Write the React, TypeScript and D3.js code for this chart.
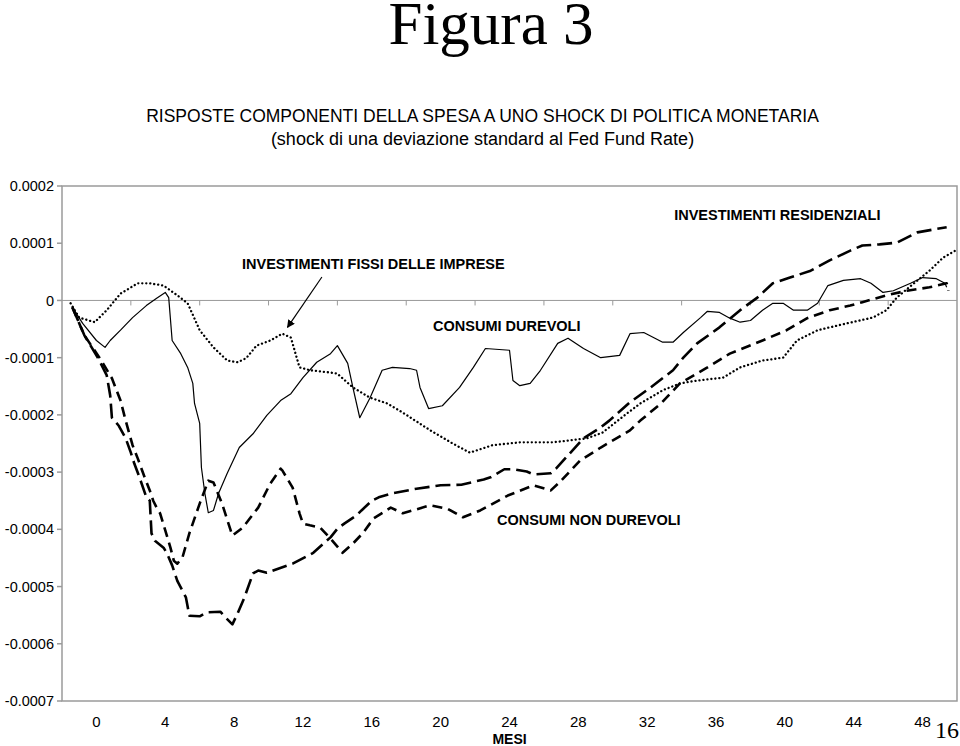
import React from 'react';
import * as d3 from 'd3';

// values are in units of 1e-4
const UNIT = 1e-4;

const xTickLabels = ['0', '4', '8', '12', '16', '20', '24', '28', '32', '36', '40', '44', '48'];
const yTickValues = [0.0002, 0.0001, 0, -0.0001, -0.0002, -0.0003, -0.0004, -0.0005, -0.0006, -0.0007];
const yTickLabels = ['0.0002', '0.0001', '0', '-0.0001', '-0.0002', '-0.0003', '-0.0004', '-0.0005', '-0.0006', '-0.0007'];

// CONSUMI DUREVOLI (solid)
const durevoliMonths = [0.1, 0.7, 1.5, 2.0, 2.3, 2.9, 3.6, 4.4, 5.0, 5.5, 5.7, 5.9, 6.4, 6.8, 7.1, 7.2, 7.5, 7.6, 7.8, 8.0, 8.3, 8.6, 9.1, 9.8, 10.6, 11.4, 12.2, 12.8, 13.5, 14.3, 15.1, 15.5, 16.1, 16.4, 16.8, 17.4, 18.1, 18.7, 19.7, 20.1, 20.3, 20.8, 21.6, 22.6, 23.4, 24.1, 25.5, 25.7, 26.1, 26.7, 27.3, 28.3, 28.9, 29.8, 30.8, 31.9, 32.5, 33.3, 34.4, 35.0, 35.6, 36.6, 37.0, 37.7, 38.3, 38.9, 39.5, 40.2, 40.8, 41.4, 42.0, 42.8, 43.4, 44.0, 44.9, 45.9, 46.5, 47.2, 47.8, 48.8, 49.5, 50.3, 50.8, 50.9];
const durevoliValues = [-0.12, -0.40, -0.70, -0.82, -0.70, -0.52, -0.30, -0.09, 0.04, 0.14, 0.05, -0.70, -0.93, -1.17, -1.45, -1.80, -2.15, -2.92, -3.37, -3.71, -3.67, -3.37, -3.02, -2.57, -2.33, -2.01, -1.75, -1.63, -1.35, -1.08, -0.93, -0.79, -1.10, -1.52, -2.05, -1.70, -1.22, -1.17, -1.19, -1.22, -1.52, -1.89, -1.84, -1.52, -1.17, -0.84, -0.87, -1.40, -1.49, -1.45, -1.22, -0.75, -0.66, -0.84, -1.00, -0.96, -0.58, -0.56, -0.73, -0.73, -0.56, -0.30, -0.19, -0.21, -0.31, -0.38, -0.35, -0.17, -0.05, -0.05, -0.17, -0.17, -0.05, 0.26, 0.35, 0.38, 0.30, 0.14, 0.17, 0.30, 0.40, 0.38, 0.30, 0.23];

// INVESTIMENTI FISSI DELLE IMPRESE (dotted)
const fissiMonths = [0.0, 0.5, 1.4, 2.1, 2.9, 3.9, 4.6, 5.4, 6.2, 6.8, 7.5, 8.3, 9.1, 9.7, 10.2, 10.8, 11.6, 12.3, 12.8, 13.3, 13.9, 15.1, 15.5, 16.4, 17.4, 18.4, 19.3, 20.9, 22.2, 23.2, 24.5, 26.1, 28.0, 30.0, 30.9, 32.3, 33.1, 34.4, 35.4, 36.4, 37.9, 38.9, 40.2, 41.4, 42.2, 43.4, 45.1, 46.6, 47.4, 48.0, 49.0, 49.9, 50.7, 51.4];
const fissiValues = [-0.05, -0.30, -0.38, -0.17, 0.12, 0.30, 0.30, 0.26, 0.09, -0.05, -0.52, -0.82, -1.05, -1.08, -1.01, -0.79, -0.70, -0.58, -0.65, -1.17, -1.22, -1.26, -1.28, -1.52, -1.70, -1.80, -1.96, -2.27, -2.50, -2.66, -2.53, -2.48, -2.48, -2.41, -2.31, -1.98, -1.80, -1.57, -1.45, -1.40, -1.35, -1.17, -1.05, -1.00, -0.70, -0.52, -0.40, -0.30, -0.17, 0.05, 0.30, 0.52, 0.75, 0.87];

// INVESTIMENTI RESIDENZIALI (long dash)
const residMonths = [0.1, 0.8, 1.6, 2.1, 2.3, 2.4, 2.8, 3.2, 3.5, 3.7, 4.0, 4.4, 4.6, 4.7, 4.9, 5.4, 5.6, 5.9, 6.2, 6.7, 6.9, 7.5, 7.9, 8.7, 9.0, 9.4, 9.7, 10.1, 10.6, 10.9, 11.4, 12.6, 12.9, 13.8, 14.1, 15.1, 15.5, 15.9, 16.6, 16.9, 17.5, 17.9, 18.7, 20.1, 21.5, 22.7, 24.0, 24.4, 25.2, 25.7, 26.5, 26.9, 27.9, 28.2, 28.8, 29.8, 30.7, 31.3, 32.5, 33.7, 35.0, 35.6, 36.4, 37.7, 38.9, 39.9, 40.8, 41.8, 43.0, 44.1, 45.3, 46.0, 47.0, 48.0, 49.2, 50.9];
const residValues = [-0.12, -0.61, -1.01, -1.31, -1.66, -2.05, -2.19, -2.41, -2.66, -2.85, -3.09, -3.44, -3.50, -4.07, -4.20, -4.32, -4.42, -4.63, -4.90, -5.19, -5.51, -5.52, -5.45, -5.44, -5.54, -5.66, -5.47, -5.19, -4.77, -4.72, -4.76, -4.63, -4.60, -4.46, -4.41, -4.14, -3.99, -3.90, -3.76, -3.67, -3.50, -3.44, -3.37, -3.29, -3.23, -3.22, -3.13, -3.09, -2.95, -2.95, -2.99, -3.04, -3.02, -2.94, -2.74, -2.41, -2.24, -2.10, -1.78, -1.52, -1.22, -1.00, -0.75, -0.47, -0.17, 0.05, 0.30, 0.40, 0.52, 0.70, 0.87, 0.96, 0.98, 1.01, 1.19, 1.28];

// CONSUMI NON DUREVOLI (short dash)
const nonDurMonths = [0.1, 0.8, 1.7, 2.4, 2.9, 3.2, 3.6, 3.9, 4.3, 4.6, 4.8, 5.0, 5.2, 5.5, 5.8, 6.0, 6.2, 6.5, 6.9, 7.5, 8.0, 8.3, 8.8, 9.3, 9.4, 10.0, 10.9, 11.6, 12.2, 12.3, 12.9, 13.3, 13.5, 13.9, 14.5, 15.1, 15.8, 16.4, 17.0, 17.6, 18.6, 19.3, 20.9, 21.9, 22.8, 23.8, 25.4, 26.9, 27.9, 28.4, 29.6, 30.8, 32.5, 33.1, 34.3, 35.4, 37.0, 38.3, 40.2, 41.6, 42.8, 44.1, 45.3, 46.0, 47.4, 48.6, 49.9, 50.9, 51.0];
const nonDurValues = [-0.12, -0.61, -1.01, -1.36, -1.75, -2.10, -2.53, -2.76, -3.09, -3.32, -3.50, -3.62, -3.72, -4.02, -4.32, -4.55, -4.60, -4.49, -4.07, -3.55, -3.15, -3.18, -3.55, -4.02, -4.11, -3.97, -3.62, -3.20, -2.94, -2.97, -3.27, -3.72, -3.90, -3.93, -3.97, -4.16, -4.41, -4.25, -4.06, -3.81, -3.62, -3.72, -3.58, -3.64, -3.79, -3.67, -3.41, -3.23, -3.32, -3.18, -2.80, -2.57, -2.27, -2.10, -1.80, -1.45, -1.17, -0.93, -0.70, -0.52, -0.31, -0.17, -0.09, -0.03, 0.09, 0.17, 0.23, 0.30, 0.17];

// annotations: [label, month, value(1e-4)]
const annotations: [string, number, number][] = [
  ['INVESTIMENTI FISSI DELLE IMPRESE', 9.96, 0.55],
  ['CONSUMI DUREVOLI', 21.06, -0.54],
  ['INVESTIMENTI RESIDENZIALI', 35.07, 1.40],
  ['CONSUMI NON DUREVOLI', 24.77, -3.93],
];
const arrowFrom: [number, number] = [14.6, 0.41];
const arrowTo: [number, number] = [12.6, -0.47];

const toPairs = (ms: number[], vs: number[]): [number, number][] => ms.map((m, i) => [m, vs[i] * UNIT]);

export default function App() {
  const W = 960, H = 746;
  const left = 62, right = 957, top = 186, bottom = 701;
  const x = d3.scaleLinear().domain([-0.5, 51.5]).range([left, right]);
  const y = d3.scaleLinear().domain([-0.0007, 0.0002]).range([bottom, top]);
  const band = d3.scaleBand().domain(xTickLabels).range([left, right]);
  const line = d3.line<[number, number]>().x(d => x(d[0])).y(d => y(d[1]));

  const series = [
    { name: 'fissi', data: toPairs(fissiMonths, fissiValues), dash: '0.1 3.9', width: 2.3, cap: 'round' },
    { name: 'resid', data: toPairs(residMonths, residValues), dash: '15 6', width: 2.6, cap: 'butt' },
    { name: 'nondur', data: toPairs(nonDurMonths, nonDurValues), dash: '10 6', width: 2.6, cap: 'butt' },
    { name: 'durevoli', data: toPairs(durevoliMonths, durevoliValues), dash: 'none', width: 1.2, cap: 'butt' },
  ];

  const sans = "'Liberation Sans', Arial, sans-serif";
  const serif = "'Liberation Serif', 'Times New Roman', serif";
  const axisColor = '#9a9a9a';
  const y0 = y(0);

  return (
    <svg width={W} height={H} style={{ position: 'absolute', left: 0, top: 0, background: '#fff' }}>
      <defs>
        <marker id="arrowhead" viewBox="0 0 10 10" refX="9" refY="5" markerWidth="8" markerHeight="8" orient="auto" markerUnits="userSpaceOnUse">
          <path d="M0,0 L10,5 L0,10 z" fill="#000" />
        </marker>
      </defs>
      <rect x={0} y={0} width={W} height={H} fill="#fff" />
      <text x={491} y={44} textAnchor="middle" fontFamily={serif} fontSize={61}>Figura 3</text>
      <text x={482.5} y={122} textAnchor="middle" fontFamily={sans} fontSize={17.5}>RISPOSTE COMPONENTI DELLA SPESA A UNO SHOCK DI POLITICA MONETARIA</text>
      <text x={482.5} y={145} textAnchor="middle" fontFamily={sans} fontSize={18}>(shock di una deviazione standard al Fed Fund Rate)</text>

      {/* plot frame */}
      <rect x={left} y={top} width={right - left} height={bottom - top} fill="none" stroke={axisColor} strokeWidth={1.5} />
      <line x1={left} x2={right} y1={y0} y2={y0} stroke={axisColor} strokeWidth={1} />

      {/* y axis */}
      {yTickValues.map((v, i) => (
        <g key={'y' + i}>
          <line x1={left - 5} x2={left} y1={y(v)} y2={y(v)} stroke={axisColor} strokeWidth={1.5} />
          <text x={54} y={y(v)} dy="0.35em" textAnchor="end" fontFamily={sans} fontSize={14.5}>{yTickLabels[i]}</text>
        </g>
      ))}

      {/* x axis ticks on zero line */}
      {xTickLabels.map((l, i) => (
        i > 0 ? <line key={'xt' + i} x1={band(l)!} x2={band(l)!} y1={y0} y2={y0 + 5} stroke={axisColor} strokeWidth={1} /> : null
      ))}
      {xTickLabels.map((l, i) => (
        <text key={'xl' + i} x={band(l)! + band.bandwidth() / 2} y={727} textAnchor="middle" fontFamily={sans} fontSize={15}>{l}</text>
      ))}
      <text x={band('24')! + band.bandwidth() / 2} y={744} textAnchor="middle" fontFamily={sans} fontSize={14} fontWeight="bold">MESI</text>

      {/* series */}
      {series.map(s => (
        <path key={s.name} d={line(s.data) || ''} fill="none" stroke="#000" strokeWidth={s.width}
          strokeDasharray={s.dash} strokeLinecap={s.cap as any} strokeLinejoin="round" />
      ))}

      {/* annotations */}
      {annotations.map(([t, m, v], i) => (
        <text key={'a' + i} x={x(m)} y={y(v * UNIT)} fontFamily={sans} fontSize={14.5} fontWeight="bold">{t}</text>
      ))}
      <line x1={x(arrowFrom[0])} y1={y(arrowFrom[1] * UNIT)} x2={x(arrowTo[0])} y2={y(arrowTo[1] * UNIT)}
        stroke="#000" strokeWidth={1.2} markerEnd="url(#arrowhead)" />

      <text x={935} y={738} fontFamily={serif} fontSize={24}>16</text>
    </svg>
  );
}
